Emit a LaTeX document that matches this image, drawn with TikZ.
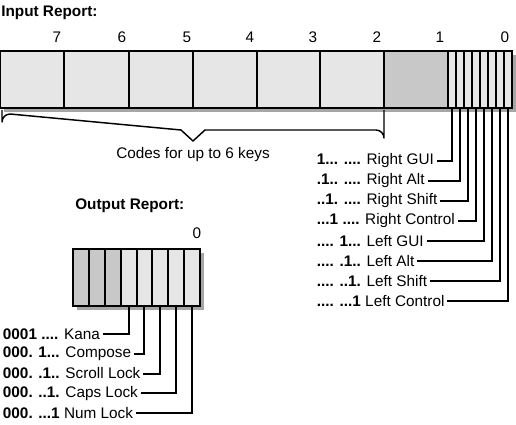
\documentclass[tikz,border=0pt]{standalone}
\usepackage{fontspec}
\setmainfont{Liberation Sans}
\definecolor{lightcell}{HTML}{E6E6E6}
\definecolor{darkcell}{HTML}{C8C8C8}
\definecolor{shadowgray}{HTML}{A6A6A6}
\tikzset{
  boxline/.style={draw=black,line width=1.5pt},
  leader/.style={draw=black,line width=1.5pt},
  lbl/.style={anchor=west,inner sep=2pt},
  numlbl/.style={inner sep=0pt},
  title/.style={anchor=west,inner sep=0pt,font=\fontsize{11.5}{13}\selectfont\bfseries},
}
\begin{document}
\begin{tikzpicture}[x=0.75pt,y=-0.75pt,font=\fontsize{11.5}{13}\selectfont]
\useasboundingbox (0,0) rectangle (516,424);

% ---------- Input report ----------
\node[title] (intitle) at (1,13) {Input Report:};
\foreach \n/\xx in {7/57,6/122,5/187,4/250,3/313,2/377,1/440,0/505}
  \node[numlbl] (n\n) at (\xx,37) {\n};

% shadow
\fill[shadowgray] (4,55) rectangle (516,112);
% fills
\fill[lightcell] (0,51) rectangle (384,108);
\fill[darkcell] (384,51) rectangle (448,108);
\fill[lightcell] (448,51) rectangle (512,108);
% outline and dividers
\draw[boxline] (0,51) rectangle (512,108);
\foreach \xx in {64,129,193,257,320,384,448}
  \draw[boxline] (\xx,51) -- (\xx,108);
\foreach \k in {1,...,7}
  \draw[boxline] ({448+8*\k},51) -- ({448+8*\k},108);

% bit tips of byte 0
\foreach \b in {0,...,7}
  \coordinate (b\b) at ({508-8*\b},108);

% brace
\draw[line width=1.1pt,line join=round]
  (2,110) -- (2,122) arc[start angle=180,end angle=90,x radius=8,y radius=-8]
  -- (181,130) -- (193,141) -- (205,130) -- (376,130)
  arc[start angle=90,end angle=0,x radius=8,y radius=-8] -- (384,110);
\node (codes) at (193,155) {Codes for up to 6 keys};

% input labels
\foreach \b/\code/\name [count=\i from 0] in {
  7/{1... ....}/{Right GUI},
  6/{.1.. ....}/{Right Alt},
  5/{..1. ....}/{Right Shift},
  4/{...1 ....}/{Right Control},
  3/{.... 1...}/{Left GUI},
  2/{.... .1..}/{Left Alt},
  1/{.... ..1.}/{Left Shift},
  0/{.... ...1}/{Left Control}}
{
  \node[lbl] (in\b) at (314,{161+20*\i}) {\textbf{\code} \name};
  \draw[leader] (in\b.east) -| (b\b);
}

% ---------- Output report ----------
\node[title] (outtitle) at (75,206) {Output Report:};
\node[numlbl] (o0) at (197,233) {0};

\fill[shadowgray] (77,253) rectangle (204,310);
\fill[darkcell] (73,249) rectangle (120.6,306);
\fill[lightcell] (120.6,249) rectangle (200,306);
\draw[boxline] (73,249) rectangle (200,306);
\foreach \k in {1,...,7}
  \draw[boxline] ({73+15.875*\k},249) -- ({73+15.875*\k},306);

\foreach \b in {0,...,4}
  \coordinate (ob\b) at ({73+15.875*(7.5-\b)},306);

\foreach \b/\code/\name [count=\i from 0] in {
  4/{0001 ....}/{Kana},
  3/{000. 1...}/{Compose},
  2/{000. .1..}/{Scroll Lock},
  1/{000. ..1.}/{Caps Lock},
  0/{000. ...1}/{Num Lock}}
{
  \node[lbl] (out\b) at (0,{334+19.75*\i}) {\textbf{\code} \name};
  \draw[leader] (out\b.east) -| (ob\b);
}
\end{tikzpicture}
\end{document}
